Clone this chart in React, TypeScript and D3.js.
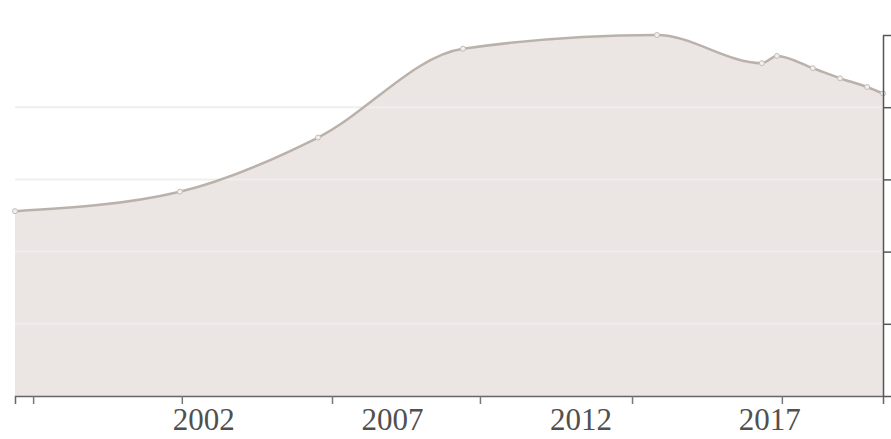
import React, { useEffect, useRef } from "react";
import * as d3 from "d3";

// data (decimal years, value in axis units)
const years = [1997, 2001.37, 2005.03, 2008.87, 2014.01, 2016.79, 2017.19, 2018.14, 2018.86, 2019.58, 2020];
const values = [2.56, 2.83, 3.58, 4.81, 5.0, 4.61, 4.71, 4.54, 4.4, 4.28, 4.19];

const xTickYears = [1997.48, 2001.42, 2005.4, 2009.32, 2013.35, 2017.32];
const xLabelYears = [2002, 2007, 2012, 2017];
const yTicks = [0, 1, 2, 3, 4, 5];
const gridValues = [1, 2, 3, 4];

const App: React.FC = () => {
  const svgRef = useRef<SVGSVGElement | null>(null);

  useEffect(() => {
    if (!svgRef.current) return;
    const svg = d3.select(svgRef.current);
    svg.selectAll("*").remove();

    const width = 891;
    const height = 439;
    const left = 15;
    const right = 883;
    const baseline = 396;
    const top = 35;

    svg.attr("width", width).attr("height", height);

    const x = d3.scaleLinear().domain([1997, 2020]).range([left, right]);
    const y = d3.scaleLinear().domain([0, 5]).range([baseline, top]);

    const points: [number, number][] = years.map((yr, i) => [yr, values[i]]);

    const area = d3.area<[number, number]>()
      .x((d) => x(d[0]))
      .y0(y(0))
      .y1((d) => y(d[1]))
      .curve(d3.curveMonotoneX);

    const line = d3.line<[number, number]>()
      .x((d) => x(d[0]))
      .y((d) => y(d[1]))
      .curve(d3.curveMonotoneX);

    svg.append("path")
      .attr("d", area(points) as string)
      .style("fill", "#ebe5e4");

    // faint grid
    svg.selectAll(".grid")
      .data(gridValues)
      .enter()
      .append("line")
      .attr("x1", left)
      .attr("x2", right)
      .attr("y1", (d) => y(d))
      .attr("y2", (d) => y(d))
      .style("stroke", "#f1eded")
      .style("stroke-width", 2);

    svg.append("path")
      .attr("d", line(points) as string)
      .style("fill", "none")
      .style("stroke", "#bab2aa")
      .style("stroke-width", 2.5);

    svg.selectAll(".dot")
      .data(points)
      .enter()
      .append("circle")
      .attr("cx", (d) => x(d[0]))
      .attr("cy", (d) => y(d[1]))
      .attr("r", 2.5)
      .style("fill", "#f3efeb")
      .style("stroke", "#c4bcb4")
      .style("stroke-width", 1);

    const xAxis = svg.append("g")
      .attr("transform", `translate(0, ${baseline})`)
      .call(d3.axisBottom(x).tickValues(xTickYears).tickSize(8).tickSizeOuter(8).tickFormat(() => ""));
    xAxis.select(".domain").style("stroke", "#666").style("stroke-width", 1.5);
    xAxis.selectAll(".tick line").style("stroke", "#777").style("stroke-width", 1.5);

    const yAxis = svg.append("g")
      .attr("transform", `translate(${right}, 0)`)
      .call(d3.axisRight(y).tickValues(yTicks).tickSize(8).tickSizeOuter(0).tickFormat(() => ""));
    yAxis.select(".domain").style("stroke", "#555").style("stroke-width", 1.5);
    yAxis.selectAll(".tick line").style("stroke", "#555").style("stroke-width", 1.5);

    svg.selectAll(".xlabel")
      .data(xLabelYears)
      .enter()
      .append("text")
      .attr("x", (d) => x(d))
      .attr("y", 430)
      .text((d) => String(d))
      .style("text-anchor", "middle")
      .style("font-family", "'Liberation Serif', serif")
      .style("font-size", "31px")
      .style("fill", "#505050");
  }, []);

  return (
    <div style={{ position: "absolute", left: 0, top: 0, background: "#fff" }}>
      <svg ref={svgRef}></svg>
    </div>
  );
};

export default App;
